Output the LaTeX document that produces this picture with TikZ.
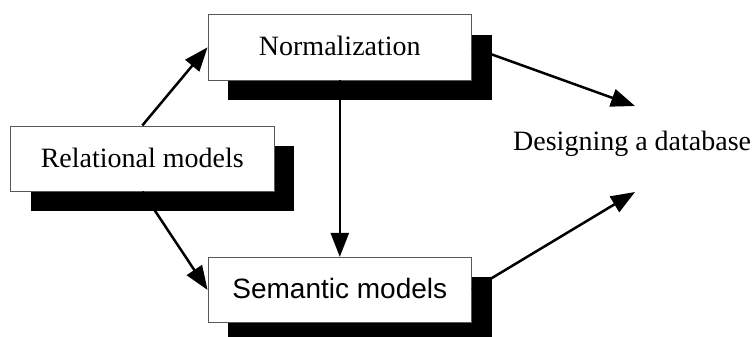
\documentclass[tikz,border=0pt]{standalone}
\usepackage{fontspec}
\setmainfont{Liberation Serif}
\newfontfamily\arialfont{Liberation Sans}
\usetikzlibrary{arrows.meta,shadows}
\begin{document}
\begin{tikzpicture}[x=1pt,y=-1pt,
  boxnode/.style={draw=black!65,line width=0.9pt,fill=white,minimum width=263.5pt,minimum height=65.3pt,
    inner sep=0pt,text height=19pt,text depth=1.6pt,font=\fontsize{28}{32}\selectfont,
    drop shadow={shadow xshift=20pt,shadow yshift=-20pt,opacity=1,fill=black}},
  conn/.style={line width=2.5pt,-{Triangle[length=24pt,width=18pt]}}]
\useasboundingbox (0,0) rectangle (752,337);
\node[boxnode] (norm) at (339.8,47.3) {Normalization};
\node[boxnode] (rel) at (142.3,158.6) {Relational models};
\node[boxnode,font=\arialfont\fontsize{28}{32}\selectfont] (sem) at (339.8,290) {Semantic models};
\node[anchor=base west,inner sep=0pt,font=\fontsize{28}{32}\selectfont] (db) at (513,150.7) {Designing a database};
\coordinate (d1) at (635,106);
\coordinate (d2) at (635,192);
\draw[conn] (rel.north) -- (norm.west);
\draw[conn] (rel.south) -- (sem.west);
\draw[conn] (norm.south) -- (sem.north);
\draw[conn] (norm.east) -- (d1);
\draw[conn] (sem.east) -- (d2);
\end{tikzpicture}
\end{document}
